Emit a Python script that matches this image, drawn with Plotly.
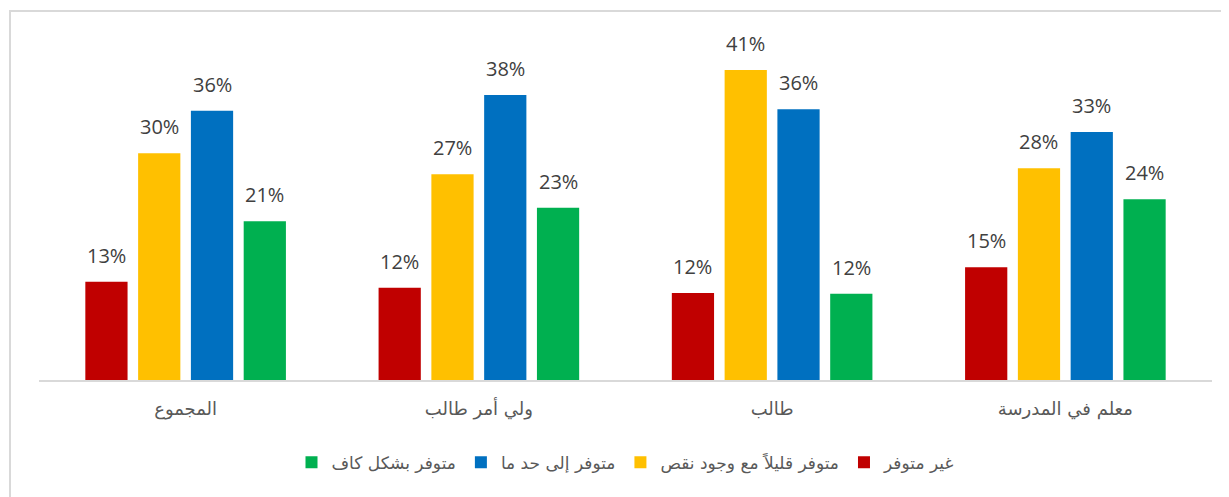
import plotly.graph_objects as go

categories = ["المجموع", "ولي أمر طالب", "طالب", "معلم في المدرسة"]
series_names = ["غير متوفر", "متوفر قليلاً مع وجود نقص", "متوفر إلى حد ما", "متوفر بشكل كاف"]
not_available = [13.0, 12.2, 11.5, 14.9]
little_available = [30.0, 27.2, 41.0, 28.0]
somewhat_available = [35.6, 37.7, 35.8, 32.8]
sufficient = [21.0, 22.8, 11.4, 23.9]
labels_not = ["13%", "12%", "12%", "15%"]
labels_little = ["30%", "27%", "41%", "28%"]
labels_somewhat = ["36%", "38%", "36%", "33%"]
labels_sufficient = ["21%", "23%", "12%", "24%"]

series_values = [not_available, little_available, somewhat_available, sufficient]
series_labels = [labels_not, labels_little, labels_somewhat, labels_sufficient]
colors = ["#C00000", "#FFC000", "#0070C0", "#00B050"]

# page has an 8px body margin, so the figure is drawn at (8, 8)
W, H = 1221, 489
ml, mt = 31, 12
plot_w, plot_h = 1173, 360
mr = W - ml - plot_w
mb = H - mt - plot_h
bargap = 0.28
bargroupgap = 0.2
cat_w = plot_w / len(categories)
slot = cat_w * (1 - bargap) / len(series_names)

fig = go.Figure()
annotations = []
for i, (name, vals, labs, col) in enumerate(zip(series_names, series_values, series_labels, colors)):
    fig.add_trace(go.Bar(
        x=categories, y=vals, name=name,
        marker=dict(color=col, line=dict(width=0)),
        hoverinfo="skip",
    ))
    for c, v, t in zip(categories, vals, labs):
        annotations.append(dict(
            x=c, y=v, xref="x", yref="y", text=t, showarrow=False,
            xanchor="center", yanchor="bottom",
            xshift=(i - 1.5) * slot, yshift=11,
            font=dict(family="Open Sans, Segoe UI, sans-serif", size=20, color="#404040"),
        ))

ymax = plot_h / 7.56

fig.update_layout(
    width=W, height=H,
    margin=dict(l=ml, r=mr, t=mt, b=mb),
    paper_bgcolor="white", plot_bgcolor="white",
    barmode="group", bargap=bargap, bargroupgap=bargroupgap,
    showlegend=True,
    legend=dict(
        orientation="h", traceorder="reversed",
        x=0.5, xanchor="center", y=-0.23, yanchor="middle",
        font=dict(family="DejaVu Sans, sans-serif", size=17, color="#595959"),
        itemwidth=30,
    ),
    xaxis=dict(
        showgrid=False, zeroline=False, showline=True,
        linecolor="#D9D9D9", linewidth=1.5,
        ticks="", ticklabelstandoff=12,
        tickfont=dict(family="DejaVu Sans, sans-serif", size=18, color="#595959"),
        fixedrange=True,
    ),
    yaxis=dict(
        range=[0, ymax], showgrid=False, zeroline=False, showline=False,
        showticklabels=False, ticks="", fixedrange=True,
    ),
    annotations=annotations,
    shapes=[dict(
        type="rect", xref="paper", yref="paper",
        x0=(2 - ml) / plot_w, x1=(1240 - ml) / plot_w,
        y0=-(505 - (H - mb)) / plot_h, y1=((H - mb) - 3) / plot_h,
        line=dict(color="#D9D9D9", width=2), fillcolor="rgba(0,0,0,0)", layer="below",
    )],
)

fig.write_html("out.html")
